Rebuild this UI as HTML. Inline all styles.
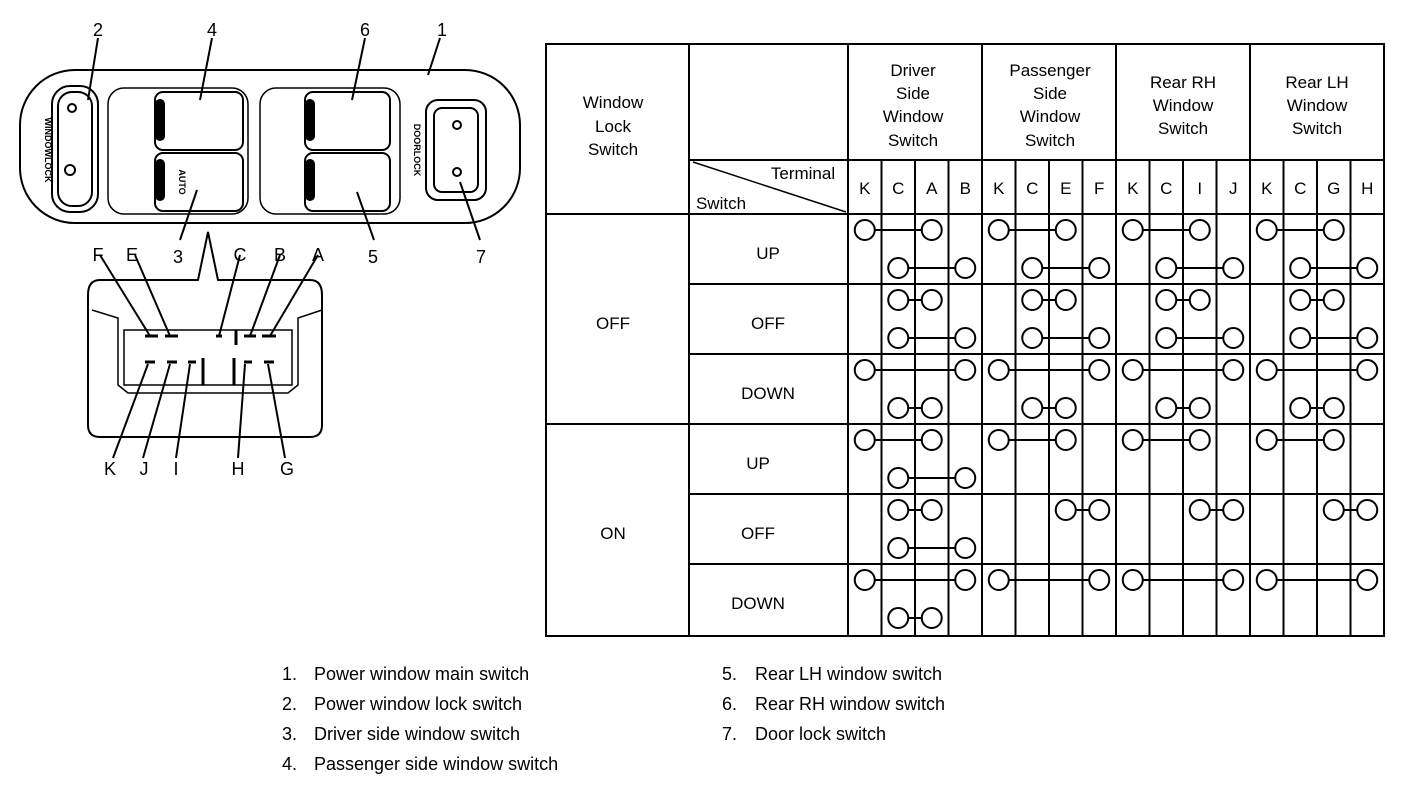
<!DOCTYPE html>
<html><head><style>
body{margin:0;background:#fff;}
svg{display:block;font-family:"Liberation Sans",sans-serif;}
</style></head><body>
<svg width="1408" height="786" viewBox="0 0 1408 786">
<g fill="none" stroke="#000" stroke-width="2">
<rect x="20" y="70" width="500" height="153" rx="55"/>
<rect x="52" y="86" width="46" height="126" rx="18"/>
<rect x="58" y="92" width="34" height="114" rx="14"/>
<circle cx="72" cy="108" r="4"/><circle cx="70" cy="170" r="5"/>
<rect x="108" y="88" width="140" height="126" rx="16" stroke-width="1.5"/>
<rect x="155" y="92" width="88" height="58" rx="8"/>
<rect x="155" y="153" width="88" height="58" rx="8"/>
<rect x="156" y="100" width="8" height="40" rx="4" fill="#000"/>
<rect x="156" y="160" width="8" height="40" rx="4" fill="#000"/>
<rect x="260" y="88" width="140" height="126" rx="16" stroke-width="1.5"/>
<rect x="305" y="92" width="85" height="58" rx="8"/>
<rect x="305" y="153" width="85" height="58" rx="8"/>
<rect x="306" y="100" width="8" height="40" rx="4" fill="#000"/>
<rect x="306" y="160" width="8" height="40" rx="4" fill="#000"/>
<rect x="426" y="100" width="60" height="100" rx="12"/>
<rect x="434" y="108" width="44" height="84" rx="8"/>
<circle cx="457" cy="125" r="4"/><circle cx="457" cy="172" r="4"/>
<line x1="98" y1="38" x2="88" y2="100"/>
<line x1="212" y1="38" x2="200" y2="100"/>
<line x1="365" y1="38" x2="352" y2="100"/>
<line x1="440" y1="38" x2="428" y2="75"/>
<line x1="180" y1="240" x2="197" y2="190"/>
<line x1="374" y1="240" x2="357" y2="192"/>
<line x1="480" y1="240" x2="460" y2="182"/>
<path d="M100 280 L198 280 L208 232 L218 280 L310 280 Q322 280 322 295 L322 425 Q322 437 310 437 L100 437 Q88 437 88 425 L88 295 Q88 280 100 280 Z"/>
<path d="M92 310 L118 318 L118 385 L128 393 L288 393 L298 385 L298 318 L322 310" stroke-width="1.5"/>
<rect x="124" y="330" width="168" height="55" stroke-width="1.5"/>
<g stroke-width="3"><line x1="145" y1="336" x2="158" y2="336"/><line x1="165" y1="336" x2="178" y2="336"/><line x1="216" y1="336" x2="222" y2="336"/><line x1="244" y1="336" x2="256" y2="336"/><line x1="262" y1="336" x2="276" y2="336"/>
<line x1="145" y1="362" x2="155" y2="362"/><line x1="167" y1="362" x2="177" y2="362"/><line x1="188" y1="362" x2="196" y2="362"/><line x1="244" y1="362" x2="252" y2="362"/><line x1="264" y1="362" x2="274" y2="362"/>
<line x1="203" y1="358" x2="203" y2="385"/><line x1="234" y1="358" x2="234" y2="385"/><line x1="236" y1="330" x2="236" y2="345"/></g>
<line x1="100" y1="255" x2="150" y2="336"/><line x1="135" y1="255" x2="170" y2="336"/><line x1="240" y1="255" x2="219" y2="336"/><line x1="280" y1="255" x2="250" y2="336"/><line x1="318" y1="255" x2="270" y2="336"/>
<line x1="113" y1="458" x2="148" y2="364"/><line x1="143" y1="458" x2="170" y2="364"/><line x1="176" y1="458" x2="190" y2="364"/><line x1="238" y1="458" x2="245" y2="364"/><line x1="285" y1="458" x2="268" y2="364"/>
</g>
<g font-size="18" text-anchor="middle">
<text x="98" y="36">2</text><text x="212" y="36">4</text><text x="365" y="36">6</text><text x="442" y="36">1</text>
<text x="178" y="263">3</text><text x="373" y="263">5</text><text x="481" y="263">7</text>
<text x="98" y="261">F</text><text x="132" y="261">E</text><text x="240" y="261">C</text><text x="280" y="261">B</text><text x="318" y="261">A</text>
<text x="110" y="475">K</text><text x="144" y="475">J</text><text x="176" y="475">I</text><text x="238" y="475">H</text><text x="287" y="475">G</text>
</g>
<text x="45" y="150" font-size="9" font-weight="bold" transform="rotate(90 45 150)" text-anchor="middle">WINDOWLOCK</text>
<text x="414" y="150" font-size="9" font-weight="bold" transform="rotate(90 414 150)" text-anchor="middle">DOORLOCK</text>
<text x="179" y="182" font-size="9" font-weight="bold" transform="rotate(90 179 182)" text-anchor="middle">AUTO</text>

<g stroke="#000" stroke-width="2" fill="none">
<rect x="546" y="44" width="838" height="592"/>
<line x1="689" y1="44" x2="689" y2="636"/>
<line x1="848" y1="44" x2="848" y2="636"/>
<line x1="982" y1="44" x2="982" y2="636"/>
<line x1="1116" y1="44" x2="1116" y2="636"/>
<line x1="1250" y1="44" x2="1250" y2="636"/>
<line x1="689" y1="160" x2="1384" y2="160"/>
<line x1="546" y1="214" x2="1384" y2="214"/>
<line x1="546" y1="424" x2="1384" y2="424"/>
<line x1="689" y1="284" x2="1384" y2="284"/>
<line x1="689" y1="354" x2="1384" y2="354"/>
<line x1="689" y1="494" x2="1384" y2="494"/>
<line x1="689" y1="564" x2="1384" y2="564"/>
<line x1="693" y1="162" x2="846" y2="212" stroke-width="1.5"/>
</g>
<g id="vl" stroke="#000" stroke-width="2"></g>
<g id="cc" stroke="#000" stroke-width="2" fill="#fff"></g>
<g font-size="17" text-anchor="middle">
<text x="613" y="108">Window</text><text x="613" y="132">Lock</text><text x="613" y="155">Switch</text>
<text x="913" y="76">Driver</text><text x="913" y="99">Side</text><text x="913" y="122">Window</text><text x="913" y="146">Switch</text>
<text x="1050" y="76">Passenger</text><text x="1050" y="99">Side</text><text x="1050" y="122">Window</text><text x="1050" y="146">Switch</text>
<text x="1183" y="88">Rear RH</text><text x="1183" y="111">Window</text><text x="1183" y="134">Switch</text>
<text x="1317" y="88">Rear LH</text><text x="1317" y="111">Window</text><text x="1317" y="134">Switch</text>
<text x="803" y="179">Terminal</text><text x="721" y="209">Switch</text>
<text x="613" y="329">OFF</text><text x="613" y="539">ON</text>
<text x="768" y="259">UP</text><text x="768" y="329">OFF</text><text x="768" y="399">DOWN</text>
<text x="758" y="469">UP</text><text x="758" y="539">OFF</text><text x="758" y="609">DOWN</text>
</g>
<g id="tl" font-size="17" text-anchor="middle"></g>
<g font-size="18">
<text x="282" y="680">1.</text><text x="314" y="680">Power window main switch</text>
<text x="282" y="710">2.</text><text x="314" y="710">Power window lock switch</text>
<text x="282" y="740">3.</text><text x="314" y="740">Driver side window switch</text>
<text x="282" y="770">4.</text><text x="314" y="770">Passenger side window switch</text>
<text x="722" y="680">5.</text><text x="755" y="680">Rear LH window switch</text>
<text x="722" y="710">6.</text><text x="755" y="710">Rear RH window switch</text>
<text x="722" y="740">7.</text><text x="755" y="740">Door lock switch</text>
</g>
</svg>
<script>
var NS="http://www.w3.org/2000/svg";
function el(p,t,a,txt){var e=document.createElementNS(NS,t);for(var k in a)e.setAttribute(k,a[k]);if(txt)e.textContent=txt;document.getElementById(p).appendChild(e);}
var W=33.5,X0=848;
function cx(i){return X0+W*i+W/2;}
for(var i=1;i<16;i++){if(i%4)el("vl","line",{x1:X0+W*i,y1:160,x2:X0+W*i,y2:636});}
var labels="KCABKCEFKCIJKCGH";
for(var i=0;i<16;i++)el("tl","text",{x:cx(i),y:194},labels[i]);
var tops=[214,284,354,424,494,564];
var R=[
 [[0,2],[1,3],[0,2],[1,3]],
 [[1,2],[1,3],[1,2],[1,3]],
 [[0,3],[1,2],[0,3],[1,2]],
 [[0,2],[1,3],[0,2],null],
 [[1,2],[1,3],[2,3],null],
 [[0,3],[1,2],[0,3],null]];
function pair(g,p,y){if(!p)return;var a=cx(g*4+p[0]),b=cx(g*4+p[1]);
 el("cc","line",{x1:a,y1:y,x2:b,y2:y});
 el("cc","circle",{cx:a,cy:y,r:10});el("cc","circle",{cx:b,cy:y,r:10});}
for(var r=0;r<6;r++)for(var g=0;g<4;g++){
 var t=R[r];pair(g,g==0?t[0]:t[2],tops[r]+16);pair(g,g==0?t[1]:t[3],tops[r]+54);}
</script>
</body></html>
